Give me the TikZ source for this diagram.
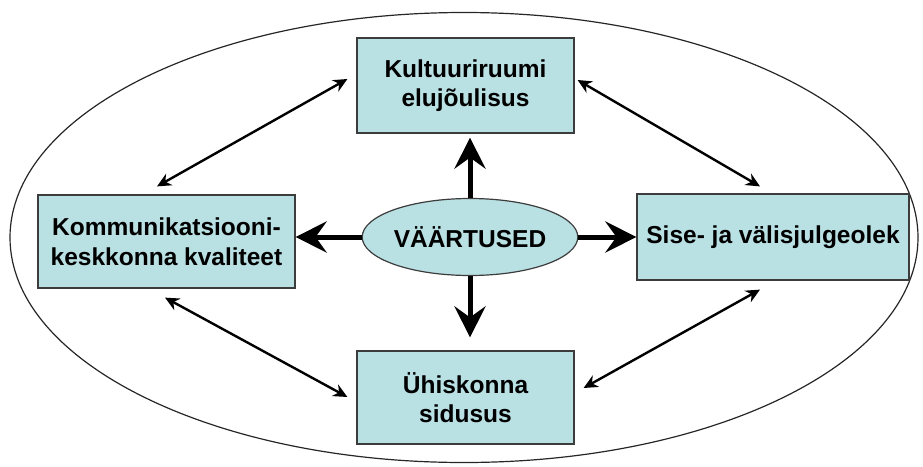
\documentclass[tikz,border=0pt]{standalone}
\usepackage{fontspec}
\setmainfont{Liberation Sans}
\definecolor{boxfill}{HTML}{B9E0E3}
\definecolor{boxline}{HTML}{3C3C3C}
\usetikzlibrary{calc, shapes.geometric, arrows.meta}

\begin{document}
\begin{tikzpicture}[x=1pt, y=-1pt,
  box/.style={draw=boxline, line width=1.2pt, fill=boxfill, align=center, inner sep=0pt,
    font=\fontsize{24.5}{29.5}\selectfont\bfseries},
  bigarrow/.style={line width=5pt, -{Stealth[length=31pt, width=31pt, inset=11pt]}},
  linkarrow/.style={line width=2.4pt, {Stealth[length=14pt, width=13pt, inset=4.5pt]}-{Stealth[length=14pt, width=13pt, inset=4.5pt]}}]
  \useasboundingbox (0,0) rectangle (923,466);
  \draw[line width=1.2pt, black!85] (464,237.5) ellipse [x radius=454, y radius=225];

  \node[box, minimum width=217pt, minimum height=95pt] (kult) at (465.5,85.5) {Kultuuriruumi\\elujõulisus};
  \node[box, minimum width=257pt, minimum height=93pt] (komm) at (166.5,241.5) {Kommunikatsiooni-\\keskkonna kvaliteet};
  \node[box, minimum width=272pt, minimum height=86pt] (sise) at (773,237) {Sise- ja välisjulgeolek};
  \node[box, minimum width=217pt, minimum height=93pt] (yhis) at (465.5,397.5) {Ühiskonna\\sidusus};
  \node[box, ellipse, minimum width=186pt, minimum height=77pt] (val) at (470,237) {VÄÄRTUSED};

  % values to the four fields
  \draw[bigarrow] (val.north) -- ($(val.north |- kult.south)+(0,4)$);
  \draw[bigarrow] (val.south) -- ($(val.south |- yhis.north)+(0,-13)$);
  \draw[bigarrow] (val.west) -- (val.west -| komm.east);
  \draw[bigarrow] (val.east) -- (val.east -| sise.west);

  % links between the fields
  \draw[linkarrow] ($(komm.north)+(-9.5,-8)$) -- ($(kult.west)+(-9,-6.5)$);
  \draw[linkarrow] ($(kult.east)+(3,-5.5)$) -- ($(sise.north)+(-13,-7)$);
  \draw[linkarrow] ($(komm.south)+(-1.5,9)$) -- ($(yhis.west)+(-9,-0.5)$);
  \draw[linkarrow] ($(sise.south)+(-13,9)$) -- ($(yhis.east)+(9,-9.5)$);
\end{tikzpicture}
\end{document}
